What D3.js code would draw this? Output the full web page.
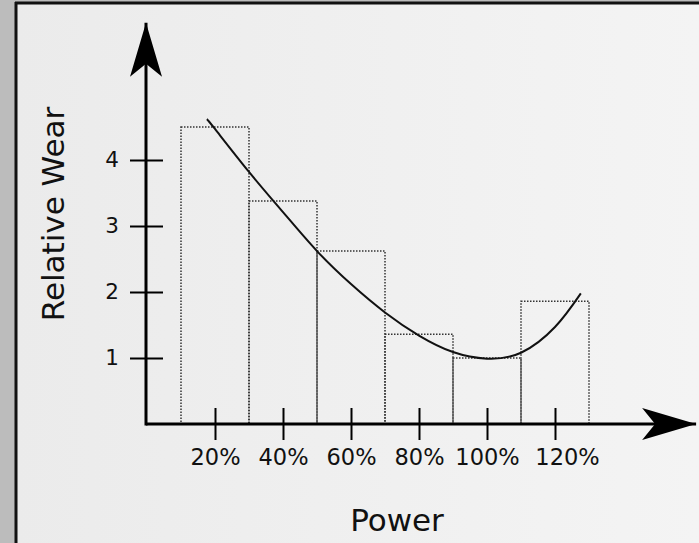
<!DOCTYPE html>
<html><head><meta charset="utf-8">
<script src="https://cdn.jsdelivr.net/npm/d3@7"></script>
<style>html,body{margin:0;padding:0;background:#bcbcbc;overflow:hidden}svg{display:block}</style>
</head><body><div id="chart"></div>
<script>
// ---- data ----
const powerLevels = [20, 40, 60, 80, 100, 120];
const powerLabels = ["20%", "40%", "60%", "80%", "100%", "120%"];
const wearBars = [4.5, 3.38, 2.62, 1.36, 1.0, 1.86];
const wearTicks = [1, 2, 3, 4];
const curvePower = [17.6, 20, 30, 40, 50, 60, 70, 80, 90, 100, 110, 120, 127.6];
const curveWear = [4.62, 4.47, 3.82, 3.21, 2.62, 2.12, 1.69, 1.34, 1.09, 0.99, 1.08, 1.47, 1.98];
const xAxisEnd = 161.5, yAxisEnd = 6.08, barWidthPct = 20;

const W = 699, H = 543;
const svg = d3.select("#chart").append("svg").attr("width", W).attr("height", H);
const defs = svg.append("defs");
const grad = defs.append("linearGradient").attr("id", "bg").attr("x1", "0").attr("x2", "1").attr("y1", "0").attr("y2", "0");
grad.append("stop").attr("offset", "0").attr("stop-color", "#ebebeb");
grad.append("stop").attr("offset", "1").attr("stop-color", "#f4f4f4");

// panel
svg.append("rect").attr("x", 0).attr("y", 0).attr("width", W).attr("height", H).attr("fill", "#bcbcbc");
svg.append("rect").attr("x", 16).attr("y", 3).attr("width", W - 16).attr("height", H - 3).attr("fill", "url(#bg)");
svg.append("line").attr("x1", 16).attr("x2", 16).attr("y1", 2).attr("y2", H).attr("stroke", "#111").attr("stroke-width", 3);
svg.append("line").attr("x1", 15).attr("x2", W).attr("y1", 3).attr("y2", 3).attr("stroke", "#111").attr("stroke-width", 3);

const x = d3.scaleLinear().domain([0, 120]).range([147, 555]);
const y = d3.scaleLinear().domain([0, 4]).range([424, 160]);

// arrow markers
defs.append("marker").attr("id", "arrow").attr("markerUnits", "userSpaceOnUse")
  .attr("viewBox", "-54 -17 56 34").attr("refX", 0).attr("refY", 0)
  .attr("markerWidth", 56).attr("markerHeight", 34).attr("orient", "auto")
  .append("path").attr("d", "M0,0 L-54,-16 L-41,0 L-54,16 Z").attr("fill", "#000");

// bars
svg.append("g").selectAll("rect").data(wearBars).join("rect")
  .attr("x", (d, i) => x(powerLevels[i] - barWidthPct / 2))
  .attr("width", (d, i) => x(powerLevels[i] + barWidthPct / 2) - x(powerLevels[i] - barWidthPct / 2))
  .attr("y", d => y(d)).attr("height", d => y(0) - y(d))
  .attr("fill", "none").attr("stroke", "#333").attr("stroke-width", 1.5).attr("stroke-dasharray", "1.5,1.5");

// curve
const pts = curvePower.map((p, i) => [p, curveWear[i]]);
svg.append("path").datum(pts)
  .attr("d", d3.line().x(d => x(d[0])).y(d => y(d[1])).curve(d3.curveNatural))
  .attr("fill", "none").attr("stroke", "#111").attr("stroke-width", 2);

// axes lines
svg.append("line").attr("x1", x(0) - 1).attr("x2", x(xAxisEnd)).attr("y1", y(0)).attr("y2", y(0))
  .attr("stroke", "#000").attr("stroke-width", 3).attr("marker-end", "url(#arrow)");
svg.append("line").attr("x1", x(0) - 1).attr("x2", x(0) - 1).attr("y1", y(0) + 1.5).attr("y2", y(yAxisEnd))
  .attr("stroke", "#000").attr("stroke-width", 3).attr("marker-end", "url(#arrow)");

// x axis ticks
const xa = svg.append("g").attr("transform", `translate(0,${y(0)})`)
  .call(d3.axisBottom(x).tickValues(powerLevels).tickFormat((d, i) => powerLabels[i]).tickSize(16).tickPadding(9));
xa.select(".domain").remove();
xa.selectAll(".tick line").attr("y1", -16).attr("y2", 16).attr("stroke", "#000").attr("stroke-width", 2);
xa.selectAll(".tick text").attr("font-family", "DejaVu Sans").attr("font-size", 22.5).attr("fill", "#111")
  .attr("dx", (d, i) => i === powerLevels.length - 1 ? 12 : 0);

// y axis ticks
const ya = svg.append("g").attr("transform", `translate(${x(0) - 1},0)`)
  .call(d3.axisLeft(y).tickValues(wearTicks).tickFormat(d3.format("d")).tickSize(16).tickPadding(11));
ya.select(".domain").remove();
ya.selectAll(".tick line").attr("x1", -16).attr("x2", 17).attr("stroke", "#000").attr("stroke-width", 2);
ya.selectAll(".tick text").attr("font-family", "DejaVu Sans").attr("font-size", 21.5).attr("fill", "#111");

// axis titles
svg.append("text").attr("x", 397).attr("y", 531).attr("text-anchor", "middle")
  .attr("font-family", "DejaVu Sans").attr("font-size", 31).attr("fill", "#111").text("Power");
svg.append("text").attr("transform", "translate(64,214) rotate(-90)").attr("text-anchor", "middle")
  .attr("font-family", "DejaVu Sans").attr("font-size", 31).attr("fill", "#111").text("Relative Wear");
</script></body></html>
